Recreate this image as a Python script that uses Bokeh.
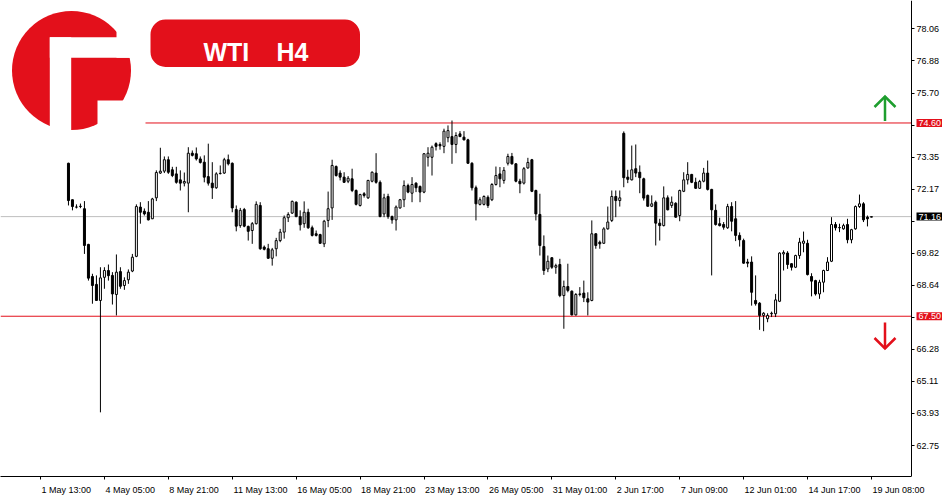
import numpy as np
from bokeh.plotting import figure
from bokeh.models import Range1d, FixedTicker, CustomJSTickFormatter, Label, ColumnDataSource
from bokeh.core.properties import value
from bokeh.embed import file_html
from bokeh.resources import INLINE

# ---------------- data (H4 bars, index 0 = "1 May 13:00") ----------------
first_bar = 7
opens = [
    73.12, 71.78, 71.51, 71.53, 71.45, 70.14, 68.96, 68.67, 68.08, 68.93,
    69.18, 69.00, 68.30, 69.14, 68.63, 68.84, 69.16, 69.70, 71.51, 71.36,
    71.32, 71.08, 71.85, 72.76, 72.83, 73.25, 72.88, 72.73, 72.51, 72.39,
    72.39, 73.49, 73.47, 73.28, 73.16, 72.63, 72.39, 72.22, 72.74, 72.76,
    73.25, 73.12, 71.42, 70.83, 71.42, 70.80, 70.65, 70.90, 71.57, 70.04,
    69.98, 69.63, 69.98, 70.28, 70.59, 71.12, 71.29, 71.69, 71.16, 70.90,
    71.32, 70.75, 70.53, 70.50, 70.16, 71.02, 71.48, 73.00, 72.76, 72.61,
    72.46, 72.55, 72.12, 71.57, 72.00, 71.85, 72.46, 72.76, 72.42, 71.26,
    71.90, 71.16, 71.04, 71.48, 71.78, 72.30, 72.02, 72.39, 72.27, 72.06,
    73.34, 73.34, 73.84, 73.81, 73.74, 74.06, 74.10, 73.81, 74.20, 74.08,
    73.98, 73.12, 72.22, 71.61, 71.61, 71.87, 71.78, 72.34, 72.73, 72.49,
    73.12, 73.37, 73.10, 72.46, 72.39, 72.95, 73.25, 72.12, 71.24, 70.06,
    69.24, 69.65, 69.30, 69.40, 68.26, 68.59, 68.42, 67.55, 68.30, 68.35,
    68.14, 68.08, 70.53, 70.22, 70.18, 70.71, 71.02, 71.90, 71.75, 74.22,
    72.61, 72.51, 72.92, 72.79, 72.55, 71.94, 71.54, 71.69, 70.92, 70.83,
    71.85, 71.57, 71.65, 71.20, 72.09, 72.51, 72.71, 72.42, 72.20, 72.46,
    72.76, 72.16, 71.39, 70.90, 70.87, 70.75, 71.53, 71.08, 70.47, 70.28,
    69.49, 69.49, 68.08, 67.98, 67.53, 67.41, 67.59, 67.59, 68.05, 69.79,
    69.82, 69.43, 69.30, 69.73, 70.18, 70.18, 68.96, 68.81, 68.32, 68.75,
    69.18, 69.52, 70.87, 70.75, 70.71, 70.87, 70.31, 70.71, 71.53, 71.63,
    71.14, 71.14,
]
highs = [
    73.14, 71.79, 71.61, 71.64, 71.73, 70.16, 69.06, 69.00, 69.30, 69.30,
    69.40, 69.12, 69.77, 69.30, 68.93, 69.22, 69.79, 71.61, 71.69, 71.46,
    71.73, 71.85, 72.86, 73.69, 73.37, 73.37, 72.99, 72.99, 72.86, 72.78,
    73.71, 73.59, 73.70, 73.37, 73.41, 73.84, 73.16, 72.79, 73.04, 73.32,
    73.44, 73.15, 71.57, 71.48, 71.48, 70.83, 70.96, 71.72, 71.69, 70.10,
    70.16, 70.01, 70.38, 70.71, 71.20, 71.32, 71.75, 71.72, 71.39, 71.72,
    71.45, 70.83, 70.65, 70.53, 71.04, 72.08, 73.25, 73.04, 72.86, 72.79,
    72.65, 72.92, 72.16, 72.00, 72.06, 72.51, 72.82, 73.49, 72.49, 72.00,
    72.00, 71.20, 71.57, 71.81, 72.49, 72.37, 72.61, 72.42, 72.30, 73.49,
    73.71, 73.77, 73.89, 73.89, 74.39, 74.51, 74.69, 74.26, 74.30, 74.30,
    74.02, 73.16, 72.30, 71.87, 71.94, 71.94, 72.39, 73.00, 72.98, 72.98,
    73.47, 73.50, 73.12, 72.55, 72.98, 73.32, 73.28, 72.15, 72.00, 70.47,
    69.73, 69.67, 69.43, 69.61, 68.81, 69.43, 68.45, 68.35, 68.57, 68.81,
    68.38, 71.02, 70.55, 70.28, 70.77, 71.53, 72.12, 72.12, 72.12, 74.29,
    72.88, 73.77, 73.81, 73.04, 72.59, 71.97, 71.94, 71.75, 71.08, 72.27,
    71.94, 71.90, 71.69, 72.15, 72.79, 73.16, 72.73, 72.59, 72.51, 72.95,
    73.22, 72.18, 71.61, 71.12, 70.96, 71.63, 71.69, 71.73, 70.58, 70.35,
    69.61, 69.70, 69.00, 68.02, 67.65, 67.61, 67.67, 68.32, 69.85, 69.92,
    69.89, 69.45, 69.76, 70.38, 70.61, 70.31, 69.08, 68.84, 68.84, 69.21,
    69.67, 71.14, 70.96, 70.90, 70.90, 71.08, 70.71, 71.57, 71.97, 71.69,
    71.20, 71.17,
]
lows = [
    71.57, 71.39, 71.46, 71.47, 69.79, 68.81, 67.96, 68.06, 63.97, 68.51,
    68.81, 67.93, 67.53, 68.51, 68.47, 68.69, 69.12, 69.67, 70.90, 71.20,
    71.02, 71.07, 71.73, 72.73, 72.76, 72.73, 72.61, 72.37, 72.12, 72.27,
    71.32, 73.37, 73.22, 73.11, 72.42, 72.30, 71.81, 72.18, 72.71, 72.73,
    73.04, 71.32, 70.62, 70.75, 70.77, 70.28, 70.16, 70.87, 69.94, 69.92,
    69.61, 69.36, 69.70, 70.22, 70.35, 70.96, 71.26, 71.14, 70.65, 70.75,
    70.71, 70.43, 70.43, 70.16, 70.04, 70.77, 71.04, 72.63, 72.49, 72.40,
    72.39, 72.06, 71.57, 71.53, 71.86, 71.81, 72.42, 72.37, 71.14, 71.14,
    71.08, 70.90, 70.65, 71.45, 71.51, 72.02, 71.69, 72.06, 71.69, 72.02,
    73.00, 72.67, 73.59, 73.62, 73.49, 73.89, 73.10, 73.49, 74.08, 73.96,
    73.10, 72.12, 71.02, 71.57, 71.57, 71.48, 71.73, 72.30, 72.24, 72.37,
    73.04, 73.07, 72.42, 72.02, 72.34, 72.92, 72.06, 71.02, 69.73, 69.02,
    69.12, 69.24, 69.06, 68.20, 67.04, 68.38, 67.53, 67.53, 68.23, 68.02,
    67.53, 68.05, 69.98, 69.98, 70.16, 70.68, 70.96, 71.14, 71.53, 72.24,
    72.39, 72.49, 72.61, 72.02, 71.75, 71.53, 71.51, 70.10, 70.28, 70.80,
    71.39, 71.48, 71.12, 70.99, 72.06, 72.34, 72.39, 72.18, 72.18, 72.42,
    72.12, 69.00, 70.83, 70.80, 70.68, 70.71, 70.62, 70.26, 70.06, 69.43,
    69.30, 67.89, 67.89, 67.00, 66.95, 67.28, 67.47, 67.47, 68.02, 69.18,
    69.24, 69.18, 69.27, 69.61, 69.85, 69.00, 68.23, 68.26, 68.14, 68.38,
    69.16, 69.49, 70.65, 70.59, 70.68, 70.18, 70.18, 70.68, 71.48, 70.96,
    70.80, 71.13,
]
closes = [
    71.75, 71.53, 71.51, 71.54, 70.10, 68.90, 68.63, 68.08, 68.91, 69.18,
    68.99, 68.32, 69.12, 68.60, 68.81, 69.12, 69.67, 71.53, 71.32, 71.26,
    71.04, 71.81, 72.78, 72.83, 73.25, 72.79, 72.67, 72.42, 72.39, 72.45,
    73.49, 73.41, 73.28, 73.15, 72.61, 72.39, 72.22, 72.73, 72.75, 73.25,
    73.10, 71.48, 70.81, 71.39, 70.81, 70.62, 70.90, 71.61, 69.98, 69.96,
    69.63, 69.94, 70.28, 70.59, 71.12, 71.24, 71.72, 71.16, 70.86, 71.32,
    70.75, 70.47, 70.47, 70.18, 70.99, 71.45, 73.04, 72.67, 72.61, 72.42,
    72.57, 72.12, 71.61, 71.97, 71.94, 72.49, 72.79, 72.42, 71.16, 71.85,
    71.16, 71.04, 71.51, 71.78, 72.30, 72.06, 72.34, 72.22, 72.06, 73.47,
    73.49, 73.71, 73.74, 73.76, 74.30, 74.32, 73.81, 74.14, 74.10, 73.98,
    73.12, 72.22, 71.63, 71.78, 71.90, 71.57, 72.34, 72.67, 72.55, 72.86,
    73.37, 73.10, 72.46, 72.37, 72.92, 73.15, 72.09, 71.26, 70.10, 69.18,
    69.52, 69.30, 69.36, 68.26, 68.59, 68.45, 67.55, 68.30, 68.32, 68.18,
    68.02, 70.53, 70.10, 70.16, 70.71, 70.96, 71.90, 71.75, 71.85, 72.59,
    72.53, 72.88, 72.76, 72.59, 71.84, 71.54, 71.63, 70.92, 70.83, 71.85,
    71.41, 71.69, 71.14, 72.12, 72.51, 72.71, 72.42, 72.20, 72.45, 72.76,
    72.16, 71.41, 70.87, 70.83, 70.77, 71.53, 70.99, 70.47, 70.31, 69.45,
    69.45, 68.38, 67.96, 67.53, 67.61, 67.53, 67.61, 68.10, 69.82, 69.84,
    69.40, 69.30, 69.73, 70.22, 70.26, 69.03, 68.79, 68.32, 68.75, 69.18,
    69.49, 70.87, 70.75, 70.76, 70.83, 70.31, 70.68, 71.53, 71.63, 71.04,
    71.08, 71.16,
]

time_tick_bars = [0, 16, 32, 48, 64, 80, 96, 112, 128, 144, 160, 176, 192, 208]
time_tick_labels = ["1 May 13:00", "4 May 05:00", "8 May 21:00", "11 May 13:00",
                    "16 May 05:00", "18 May 21:00", "23 May 13:00", "26 May 05:00",
                    "31 May 01:00", "2 Jun 17:00", "7 Jun 09:00", "12 Jun 01:00",
                    "14 Jun 17:00", "19 Jun 08:00"]
price_ticks = [78.06, 76.88, 75.70, 74.52, 73.35, 72.17, 70.99, 69.82,
               68.64, 67.46, 66.28, 65.11, 63.93, 62.75]
covered_ticks = [74.52, 70.99, 67.46]
resistance = 74.60
support = 67.50
last_price = closes[-1]
symbol_text = ["WTI", "H4"]

# ---------------- layout / style (window pixels) ----------------
RED = "#E3101B"
GREEN = "#1E9E2E"
FONT = "Liberation Sans"
BAR0_PX = 40.0        # screen x of bar 0
PX_PER_BAR = 3.995
REF_PRICE, REF_PX = 78.06, 28.3
PX_PER_USD = 27.22
AXIS_PX = 911         # where the price axis sits
CANVAS_R, FRAME_B = 942, 476


def bx(px):
    return (px - BAR0_PX) / PX_PER_BAR


def py(px):
    return REF_PRICE - (px - REF_PX) / PX_PER_USD


p = figure(frame_width=CANVAS_R, frame_height=FRAME_B,
           x_range=Range1d(bx(0), bx(CANVAS_R)),
           y_range=Range1d(py(FRAME_B), py(0)),
           y_axis_location="right", output_backend="svg", toolbar_location=None,
           min_border_left=0, min_border_top=0, min_border_right=0, min_border_bottom=16)
p.outline_line_color = None
p.xgrid.visible = False
p.ygrid.visible = False
p.background_fill_color = "white"
p.border_fill_color = "white"
x_axis_end = bx(AXIS_PX)

# right price axis, drawn at the chart's right edge (inside the canvas)
yax = p.yaxis[0]
yax.fixed_location = x_axis_end
yax.ticker = FixedTicker(ticks=price_ticks)
yax.formatter = CustomJSTickFormatter(args=dict(hidden=covered_ticks), code="""
for (const h of hidden) { if (Math.abs(tick - h) < 1e-6) { return ""; } }
return tick.toFixed(2);
""")
yax.major_tick_out = 3
yax.major_tick_in = 0
yax.minor_tick_out = 0
yax.minor_tick_in = 0
yax.major_label_standoff = 2
yax.major_label_text_font = FONT
yax.major_label_text_font_size = "9px"
yax.major_label_text_color = "black"
yax.axis_line_color = "black"
yax.major_tick_line_color = "black"

# bottom time axis: labels start at the tick (MT4 style)
char_w = {"0": .556, "1": .556, "2": .556, "3": .556, "4": .556, "5": .556, "6": .556,
          "7": .556, "8": .556, "9": .556, " ": .278, ":": .278, "M": .833, "a": .556,
          "y": .5, "J": .5, "u": .556, "n": .556}


def label_px(s):
    return 9 * sum(char_w.get(ch, 0.556) for ch in s)


centers = [b + (label_px(s) / 2 + 1) / PX_PER_BAR for b, s in zip(time_tick_bars, time_tick_labels)]
xax = p.xaxis[0]
xax.bounds = (p.x_range.start, x_axis_end)
xax.ticker = FixedTicker(ticks=centers, minor_ticks=time_tick_bars)
xax.formatter = CustomJSTickFormatter(args=dict(centers=centers, labels=time_tick_labels), code="""
let best = 0;
for (let i = 0; i < centers.length; i++) {
  if (Math.abs(centers[i] - tick) < Math.abs(centers[best] - tick)) { best = i; }
}
return labels[best];
""")
xax.major_tick_out = 0
xax.major_tick_in = 0
xax.minor_tick_out = 3
xax.minor_tick_in = 0
xax.minor_tick_line_color = "black"
xax.major_label_standoff = 5
xax.major_label_text_font = FONT
xax.major_label_text_font_size = "9px"
xax.major_label_text_color = "black"
xax.axis_line_color = "black"

# level lines
x0 = p.x_range.start
p.segment(x0=[x0], y0=[last_price], x1=[x_axis_end], y1=[last_price], line_color="#BEBEBE", line_width=1)
p.segment(x0=[bx(145)], y0=[resistance], x1=[x_axis_end], y1=[resistance], line_color=RED, line_width=1)
p.segment(x0=[x0], y0=[support], x1=[x_axis_end], y1=[support], line_color=RED, line_width=1)

# candles
o = np.array(opens)
c = np.array(closes)
bars = np.arange(first_bar, first_bar + len(opens))
src = ColumnDataSource(dict(
    x=bars, o=o, c=c,
    h=np.maximum(np.array(highs), np.maximum(o, c)),
    l=np.minimum(np.array(lows), np.minimum(o, c)),
    top=np.maximum(o, c), bottom=np.minimum(o, c),
    fill=["white" if cc >= oo else "black" for oo, cc in zip(o, c)],
))
p.segment(x0="x", y0="l", x1="x", y1="h", source=src, line_color="black", line_width=1)
p.vbar(x="x", width=0.5, top="top", bottom="bottom", source=src,
       fill_color="fill", line_color="black", line_width=1)

# price boxes on the axis
for val, col in [(resistance, RED), (support, RED), (last_price, "black")]:
    p.add_layout(Label(x=x_axis_end, y=val, x_offset=5, text=f"{val:.2f}", text_font=FONT,
                       text_font_size="9px", text_color="white", text_baseline="middle",
                       text_align="left", background_fill_color=col,
                       padding=dict(left=2, right=3, top=1, bottom=1)))

# arrows
AX = 884.5
HEAD = 10.5
for tail, tip, col in [(120.5, 96, GREEN), (322, 348, RED)]:
    d = 1 if tip > tail else -1
    p.line(x=[bx(AX), bx(AX)], y=[py(tail), py(tip)], line_color=col, line_width=2.5)
    p.line(x=[bx(AX - HEAD), bx(AX), bx(AX + HEAD)],
           y=[py(tip - d * HEAD), py(tip), py(tip - d * HEAD)],
           line_color=col, line_width=2.5, line_join="miter")

# logo
p.scatter(x=[bx(71)], y=[py(70)], size=119, marker="circle", fill_color=RED, line_color=None)
cut_l = [49.3, 49.3, 116, 97]
cut_r = [70.7, 132, 132, 132]
cut_t = [36.7, 36.7, 8.5, 100]
cut_b = [132, 57.3, 57.3, 132]
p.quad(left=[bx(v) for v in cut_l], right=[bx(v) for v in cut_r],
       top=[py(v) for v in cut_t], bottom=[py(v) for v in cut_b],
       fill_color="white", line_color=None)

# title pill
p.quad(left=[bx(150)], right=[bx(359.5)], top=[py(19)], bottom=[py(66.5)],
       border_radius=15, fill_color=RED, line_color=None)
p.text(x=[bx(203), bx(276)], y=[py(51.7), py(51.7)], text=symbol_text,
       text_align="left", text_baseline="alphabetic", text_font=value(FONT),
       text_font_style="bold", text_font_size="25px", text_color="white")

open("out.html", "w").write(file_html(p, INLINE))
